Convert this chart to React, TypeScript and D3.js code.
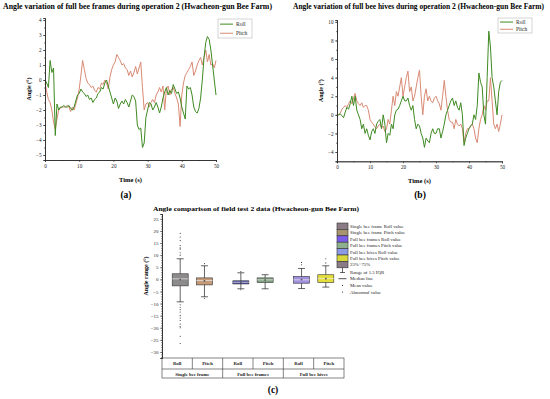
import * as React from "react"
import * as d3 from "d3"

// time grid shared by both line charts (0.5 s steps)
const timeGrid = d3.range(0, 50.01, 0.5)

// (a) full bee frames, operation 2
const rollA = [
  0, -0.2, -0.5, 1.3, 0.5, 0.8, -3.7, -1.6, -2.0, -1.8,
  -1.8, -1.7, -1.8, -1.8, -1.7, -1.9, -2.0, -1.8, -1.4, -1.0,
  -0.9, -0.6, -0.8, -0.9, -1.1, -1.0, -1.3, -1.2, -1.5, -1.3,
  -1.2, -0.9, -0.8, -0.5, -0.6, -0.2, 0.0, -0.4, -0.8, -1.2,
  -1.6, -1.2, -1.4, -1.9, -1.6, -1.4, -1.6, -1.3, -1.5, -1.8,
  -1.4, -1.0, -1.1, -1.4, -3.0, -3.3, -3.2, -4.5, -4.2, -2.5,
  -2.0, -1.5, -1.6, -2.0, -1.8, -1.5, -1.8, -2.2, -1.8, -1.2,
  -0.8, -0.5, -1.0, -0.7, -0.9, -0.3, -0.6, -0.9, -0.8, -1.2,
  -1.8, -2.2, -2.6, -0.4, -0.6, -0.5, -1.0, -1.8, -2.1, -2.2,
  -1.9, -1.2, 0.0, 1.5, 2.5, 2.9, 2.7, 2.0, 1.0, 0.0, -1.0,
]
const pitchA = [
  -0.2, -0.8, -1.3, -1.5, -2.0, -2.8, -3.3, -2.6, -2.0, -1.9,
  -1.8, -1.8, -1.8, -1.7, -1.8, -2.1, -1.8, -2.0, -1.6, -1.2,
  -0.6, 0.3, 1.3, 0.7, 0.1, -0.2, -0.3, -0.5, -0.4, -0.7,
  -0.8, -0.5, -0.6, -0.2, -0.3, 0.0, -0.2, -0.6, 0.2, 0.7,
  1.0, 1.2, 1.7, 1.5, 1.3, 1.0, 1.1, 0.8, 0.7, 0.3,
  0.6, 0.2, 0.5, 0.9, 0.4, 0.8, 1.2, -0.5, -2.0, -1.6,
  -1.5, -1.8, -1.5, -1.3, -1.5, -1.0, -0.8, -0.5, -0.8, -0.4,
  -2.0, -0.6, -0.4, -1.0, -0.6, -0.5, -0.9, -1.2, -1.6, -3.1,
  -1.0, -0.2, 0.3, 0.5, 0.7, 0.9, 1.2, 0.3, 0.6, 1.0,
  1.3, 1.5, 1.0, 1.5, 2.0, 1.2, 1.7, 1.0, 1.1, 0.8, 1.3,
]

// (b) full bee hives, operation 2
const rollB = [
  0, 0.0, 0.1, -0.1, -0.3, 0.3, 0.8, 0.6, 1.2, 2.0,
  1.0, 2.0, 0.5, 0.0, -0.5, -1.5, -1.0, -2.0, -1.5, -2.2,
  -2.7, -1.8, -1.5, -2.0, -1.0, -0.7, -0.5, -1.5, 0.0, -1.0,
  -3.0, -2.0, -2.2, -1.0, -1.5, 0.0, 0.5, 0.6, 1.0, 1.5,
  2.0, 1.5, 1.5, 1.8, 1.0, 0.5, 1.0, -0.5, -1.5, -1.0,
  -1.2, -2.0, -2.5, -3.5, -2.5, -2.8, -3.0, -2.0, -1.5, -2.0,
  -2.0, -1.5, -1.5, -2.5, -1.8, -1.0, 0.0, 0.5, 1.0, 1.5,
  1.8, 1.0, 1.5, 0.8, 0.5, 1.3, 0.0, -3.3, -2.5, -2.0,
  -1.5, -1.2, -1.0, 0.0, -0.5, 1.0, 4.5, 3.5, 3.0, 0.0,
  -1.0, 4.0, 9.0, 7.3, 4.0, 3.0, 1.5, 0.0, 2.5, 3.5, 3.7,
]
const pitchB = [
  0.0, 0.0, 0.2, 0.6, 0.8, 1.0, 0.8, 1.2, 1.5, 1.2,
  1.8, 2.3, 1.5, 1.2, 1.0, 1.3, 0.8, 1.0, 1.0, 0.5,
  -0.5, -0.8, -1.0, -1.3, -1.5, -1.2, -1.0, -1.4, -1.2, -1.8,
  -1.5, -0.5, -1.0, 0.5, 2.0, 1.0, 2.5, 2.0, 3.0, 4.0,
  2.0, 3.0, 4.0, 4.7, 2.5, 3.0, 1.5, 2.0, 3.0, 4.0,
  4.8, 2.0, 0.0, 2.0, 2.8, 1.5, 2.0, 1.5, 1.3, 1.8,
  2.0, 1.5, 1.2, 0.5, 2.0, 3.7, 2.0, 0.5, -0.5, -0.8,
  -0.8, -1.5, -0.5, -1.0, -1.2, -1.0, -1.5, -3.0, -2.0, -1.5,
  -1.5, -1.2, -1.0, -1.5, -2.5, -3.0, -1.5, -0.5, 0.0, 1.0,
  0.5, 1.5, 1.5, 4.0, 1.5, -1.0, -1.5, -1.0, -1.8, -1.0, 0.0,
]

// (c) box plot summary
const groups = ["Single bee frame", "Full bee frames", "Full bee hives"]
const axesNames = ["Roll", "Pitch"]
const boxQ1 = [-2.7, -2.3, -1.9, -1.3, -1.6, -1.3]
const boxQ3 = [2.3, 0.6, -0.6, 0.6, 1.2, 1.9]
const boxMedian = [0.2, -0.5, -1.2, -0.2, -0.2, 0.3]
const boxMean = [-0.1, -0.6, -1.2, -0.3, -0.1, 0.3]
const whiskLow = [-9.3, -7.2, -3.9, -3.9, -3.8, -3.2]
const whiskHigh = [8.5, 5.6, 2.7, 1.9, 4.5, 5.6]
const outliers = [
  [10, 11, 12.5, 13, 14, 16, 17.5, 19, -10.5, -11.5, -12.5, -13.5, -15, -16, -17, -18.5, -19.5, -20, -23.5, -26.5],
  [6.5, -7.8],
  [3.2, -4.3],
  [],
  [7.0, 6.0],
  [8.5, 6.8],
]
const boxColors = ["#8d8a8c", "#c49a78", "#4c4ca2", "#80a080", "#a190e0", "#e4de3c"]
const legendLabels = [
  "Single bee frame Roll value",
  "Single bee frame Pitch value",
  "Full bee frames Roll value",
  "Full bee frames Pitch value",
  "Full bee hives Roll value",
  "Full bee hives Pitch value",
  "25%~75%",
]
const legendColors = ["#8a7b86", "#a8946e", "#7b5ce8", "#8fb08f", "#8c9ae6", "#d8d83c", "#8a7b86"]

const serif = "'Liberation Serif', 'Times New Roman', serif"
const rollColor = "#3f8a22"
const pitchColor = "#d98a74"

function lineChart(
  svg: d3.Selection<SVGSVGElement, unknown, null, undefined>,
  opt: {
    x0: number; x1: number; yTop: number; yBot: number; yDomain: [number, number]
    yTicks: number[]; yMinor: number[]; roll: number[]; pitch: number[]
    title: string; titleX: number; titleW: number; tag: string; tagX: number
    legX: number; legY: number; legH: number
  }
) {
  const g = svg.append("g")
  const x = d3.scaleLinear().domain([0, 50]).range([opt.x0, opt.x1])
  const y = d3.scaleLinear().domain(opt.yDomain).range([opt.yBot, opt.yTop])

  g.append("text").attr("x", opt.titleX).attr("y", 9).attr("text-anchor", "middle")
    .attr("font-family", serif).attr("font-weight", "bold").attr("font-size", 7.2)
    .attr("textLength", opt.titleW).attr("lengthAdjust", "spacingAndGlyphs").text(opt.title)

  const line = d3.line<number>().x((_, i) => x(timeGrid[i])).y(d => y(d))
  g.append("path").datum(opt.pitch).attr("d", line).attr("fill", "none")
    .attr("stroke", pitchColor).attr("stroke-width", 1)
  g.append("path").datum(opt.roll).attr("d", line).attr("fill", "none")
    .attr("stroke", rollColor).attr("stroke-width", 1)

  // axes
  g.append("g").attr("transform", `translate(${opt.x0},0)`)
    .call(d3.axisLeft(y).tickValues(opt.yTicks).tickSize(2).tickPadding(1.5).tickFormat(d3.format("d")))
  g.append("g").attr("transform", `translate(${opt.x0},0)`)
    .call(d3.axisLeft(y).tickValues(opt.yMinor).tickSize(1).tickFormat(() => ""))
  g.append("g").attr("transform", `translate(0,${opt.yBot})`)
    .call(d3.axisBottom(x).tickValues([0, 10, 20, 30, 40, 50]).tickSize(2).tickPadding(2))
  g.append("g").attr("transform", `translate(0,${opt.yBot})`)
    .call(d3.axisBottom(x).tickValues([5, 15, 25, 35, 45]).tickSize(1).tickFormat(() => ""))
  g.selectAll(".domain").attr("stroke", "#222").attr("stroke-width", 0.7)
  g.selectAll(".tick line").attr("stroke", "#222").attr("stroke-width", 0.6)
  g.selectAll(".tick text").attr("font-family", serif).attr("font-size", 5.2).attr("fill", "#222")

  g.append("text").attr("transform", `translate(${opt.x0 - 14},${(opt.yTop + opt.yBot) / 2}) rotate(-90)`)
    .attr("text-anchor", "middle").attr("font-family", serif).attr("font-weight", "bold")
    .attr("font-size", 6).text("Angle (°)")
  g.append("text").attr("x", (opt.x0 + opt.x1) / 2).attr("y", opt.yBot + 22).attr("text-anchor", "middle")
    .attr("font-family", serif).attr("font-weight", "bold").attr("font-size", 6.5).text("Time (s)")
  g.append("text").attr("x", opt.tagX).attr("y", 198).attr("text-anchor", "middle")
    .attr("font-family", serif).attr("font-size", 9.5).attr("font-weight", "bold").text(opt.tag)

  // legend
  const lg = g.append("g").attr("transform", `translate(${opt.legX},${opt.legY})`)
  lg.append("rect").attr("width", 34).attr("height", opt.legH).attr("fill", "white")
    .attr("stroke", "#aaa").attr("stroke-width", 0.5)
  ;[["Roll", rollColor], ["Pitch", pitchColor]].forEach(([name, c], i) => {
    const yy = opt.legH * (0.27 + i * 0.48)
    lg.append("line").attr("x1", 2).attr("x2", 15).attr("y1", yy).attr("y2", yy)
      .attr("stroke", c).attr("stroke-width", 1)
    lg.append("text").attr("x", 18).attr("y", yy + 1.8).attr("font-family", serif)
      .attr("font-size", 5.5).attr("fill", "#222").text(name)
  })
}

export default function App() {
  const svgRef = React.useRef<SVGSVGElement>(null)

  React.useEffect(() => {
    if (!svgRef.current) return
    const svg = d3.select(svgRef.current)
    svg.selectAll("*").remove()

    lineChart(svg, {
      x0: 45, x1: 216, yTop: 18, yBot: 160, yDomain: [-5.333, 4.133],
      yTicks: d3.range(-5, 4.01, 1), yMinor: d3.range(-5, 4.01, 0.5),
      roll: rollA, pitch: pitchA,
      title: "Angle variation of full bee frames during operation 2 (Hwacheon-gun Bee Farm)",
      titleX: 137.5, titleW: 269, tag: "(a)", tagX: 126,
      legX: 218, legY: 19, legH: 19,
    })
    lineChart(svg, {
      x0: 337, x1: 502, yTop: 20, yBot: 161.3, yDomain: [-5, 10.2],
      yTicks: d3.range(-4, 10.01, 2), yMinor: d3.range(-5, 10.01, 1),
      roll: rollB, pitch: pitchB,
      title: "Angle variation of full bee hives during operation 2 (Hwacheon-gun Bee Farm)",
      titleX: 418.5, titleW: 251, tag: "(b)", tagX: 420,
      legX: 498, legY: 18, legH: 15,
    })

    // ---------- (c) box plot ----------
    const c = svg.append("g")
    const left = 162, right = 344, top = 214, bottom = 358
    const y = d3.scaleLinear().domain([-32.5, 27]).range([bottom, top])
    const gx = d3.scaleBand<string>().domain(groups).range([left, right])
    const ix = d3.scalePoint<string>().domain(axesNames).range([0, gx.bandwidth()]).padding(0.75)
    const cx = (i: number) => (gx(groups[Math.floor(i / 2)]) ?? 0) + (ix(axesNames[i % 2]) ?? 0)

    c.append("text").attr("x", 153).attr("y", 211).attr("font-family", serif)
      .attr("font-weight", "bold").attr("font-size", 6.6).attr("textLength", 206)
      .attr("lengthAdjust", "spacingAndGlyphs")
      .text("Angle comparison of field test 2 data (Hwacheon-gun Bee Farm)")

    const ya = c.append("g").attr("transform", `translate(${left},0)`)
      .call(d3.axisLeft(y).tickValues(d3.range(-30, 25.01, 5)).tickSize(2).tickPadding(1.5))
    c.append("g").attr("transform", `translate(${left},0)`)
      .call(d3.axisLeft(y).tickValues(d3.range(-32, 27.01, 1)).tickSize(1).tickFormat(() => ""))
    c.selectAll(".domain").attr("stroke", "#222").attr("stroke-width", 0.7)
    c.selectAll(".tick line").attr("stroke", "#222").attr("stroke-width", 0.5)
    ya.selectAll(".tick text").attr("font-family", serif).attr("font-size", 4.9).attr("fill", "#222")

    c.append("text").attr("transform", `translate(148,${(top + bottom) / 2 - 10}) rotate(-90)`)
      .attr("text-anchor", "middle").attr("font-family", serif).attr("font-weight", "bold")
      .attr("font-size", 6).text("Angle range (°)")

    const bw = 16
    boxColors.forEach((col, i) => {
      const xc = cx(i)
      const b = c.append("g")
      b.append("line").attr("x1", xc).attr("x2", xc).attr("y1", y(whiskHigh[i])).attr("y2", y(whiskLow[i]))
        .attr("stroke", "#222").attr("stroke-width", 0.7)
      ;[whiskHigh[i], whiskLow[i]].forEach(v => {
        b.append("line").attr("x1", xc - 3.5).attr("x2", xc + 3.5).attr("y1", y(v)).attr("y2", y(v))
          .attr("stroke", "#222").attr("stroke-width", 0.7)
      })
      b.append("rect").attr("x", xc - bw / 2).attr("y", y(boxQ3[i])).attr("width", bw)
        .attr("height", y(boxQ1[i]) - y(boxQ3[i])).attr("fill", col).attr("stroke", "#333").attr("stroke-width", 0.6)
      b.append("line").attr("x1", xc - bw / 2).attr("x2", xc + bw / 2)
        .attr("y1", y(boxMedian[i])).attr("y2", y(boxMedian[i])).attr("stroke", "#eee").attr("stroke-width", 0.7)
      b.append("rect").attr("x", xc - 0.8).attr("y", y(boxMean[i]) - 0.8).attr("width", 1.6).attr("height", 1.6)
        .attr("fill", "#555")
      outliers[i].forEach(v => {
        b.append("circle").attr("cx", xc).attr("cy", y(v)).attr("r", 0.55).attr("fill", "#333")
      })
    })

    // category table under the plot
    const t = c.append("g")
    const rowMid = bottom + 11, rowEnd = bottom + 20
    t.append("rect").attr("x", left).attr("y", bottom).attr("width", right - left).attr("height", rowEnd - bottom)
      .attr("fill", "none").attr("stroke", "#333").attr("stroke-width", 0.6)
    t.append("line").attr("x1", left).attr("x2", right).attr("y1", rowMid).attr("y2", rowMid)
      .attr("stroke", "#333").attr("stroke-width", 0.6)
    const cellW = gx.bandwidth() / 2
    boxColors.forEach((_, i) => {
      const x0 = left + i * cellW
      if (i > 0) {
        t.append("line").attr("x1", x0).attr("x2", x0).attr("y1", bottom)
          .attr("y2", i % 2 === 0 ? rowEnd : rowMid).attr("stroke", "#333").attr("stroke-width", 0.6)
      }
      t.append("text").attr("x", x0 + cellW / 2).attr("y", bottom + 7.3).attr("text-anchor", "middle")
        .attr("font-family", serif).attr("font-weight", "bold").attr("font-size", 4.8).attr("fill", "#222")
        .text(axesNames[i % 2])
    })
    groups.forEach(gname => {
      t.append("text").attr("x", (gx(gname) ?? 0) + gx.bandwidth() / 2).attr("y", rowMid + 6.6)
        .attr("text-anchor", "middle").attr("font-family", serif).attr("font-weight", "bold")
        .attr("font-size", 4.8).attr("fill", "#222").text(gname)
    })
    c.append("text").attr("x", 273).attr("y", 393).attr("text-anchor", "middle")
      .attr("font-family", serif).attr("font-size", 9.5).attr("font-weight", "bold").text("(c)")

    // legend
    const lg = c.append("g").attr("transform", "translate(337,223)")
    const sh = 6.4
    legendLabels.forEach((lab, i) => {
      lg.append("rect").attr("x", 0).attr("y", i * sh).attr("width", 11).attr("height", sh)
        .attr("fill", legendColors[i]).attr("stroke", "#333").attr("stroke-width", 0.6)
      lg.append("text").attr("x", 13).attr("y", i * sh + sh / 2 + 1.7).attr("font-family", serif)
        .attr("font-size", 4.8).attr("fill", "#222").text(lab)
    })
    const extra = ["Range of 1.5 IQR", "Median line", "Mean value", "Abnormal value"]
    extra.forEach((lab, i) => {
      const yy = 49 + i * 6.7
      lg.append("text").attr("x", 13).attr("y", yy + 1.7).attr("font-family", serif)
        .attr("font-size", 4.8).attr("fill", "#222").text(lab)
    })
    lg.append("line").attr("x1", 5.5).attr("x2", 5.5).attr("y1", 7 * sh).attr("y2", 49.5).attr("stroke", "#222").attr("stroke-width", 0.7)
    lg.append("line").attr("x1", 3).attr("x2", 8).attr("y1", 49.5).attr("y2", 49.5).attr("stroke", "#222").attr("stroke-width", 0.7)
    lg.append("line").attr("x1", 1.5).attr("x2", 9.5).attr("y1", 55.7).attr("y2", 55.7).attr("stroke", "#222").attr("stroke-width", 0.8)
    lg.append("circle").attr("cx", 5.5).attr("cy", 62.4).attr("r", 0.55).attr("fill", "#333")
    lg.append("circle").attr("cx", 5.5).attr("cy", 69.1).attr("r", 0.55).attr("fill", "#333")
  }, [])

  return (
    <svg
      ref={svgRef}
      width={550}
      height={399}
      viewBox="0 0 550 399"
      style={{ position: "absolute", left: 0, top: 0, background: "white" }}
    />
  )
}
